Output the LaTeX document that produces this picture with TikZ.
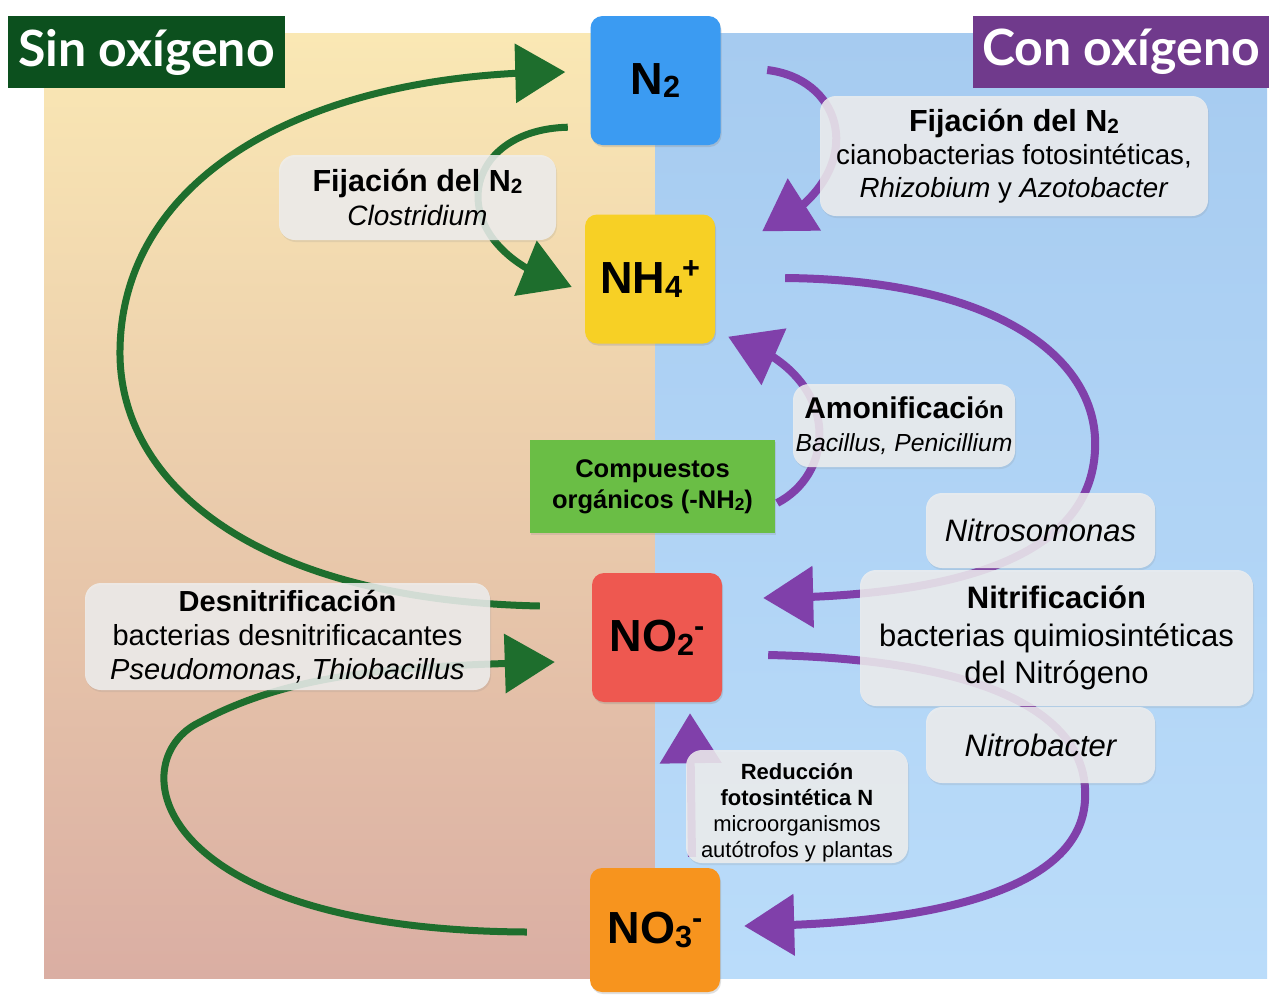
\documentclass[tikz,border=0pt]{standalone}
\usepackage{fontspec}
\usepackage{graphicx}
\setmainfont{Liberation Sans}
\newfontfamily\titlefont{Lato}
\usetikzlibrary{arrows.meta,bending,shadows}
\newcommand{\sbx}[1]{\raisebox{-0.08em}{\scalebox{0.68}{#1}}}
\newcommand{\spx}[1]{\raisebox{0.33em}{\scalebox{0.68}{#1}}}
\definecolor{leftTop}{RGB}{250,232,180}
\definecolor{leftBot}{RGB}{218,174,163}
\definecolor{rightTop}{RGB}{166,203,240}
\definecolor{rightBot}{RGB}{186,220,250}
\definecolor{cN}{RGB}{59,155,242}
\definecolor{cNH}{RGB}{247,208,37}
\definecolor{cComp}{RGB}{106,190,69}
\definecolor{cNOtwo}{RGB}{238,88,80}
\definecolor{cNOthree}{RGB}{247,148,30}
\definecolor{cSin}{RGB}{12,80,30}
\definecolor{cCon}{RGB}{112,58,140}
\definecolor{gArrow}{RGB}{30,110,45}
\definecolor{pArrow}{RGB}{128,64,170}
\definecolor{boxgray}{RGB}{238,238,238}
\begin{document}
\begin{tikzpicture}[x=1pt,y=-1pt,
  keybox/.style={rounded corners=12pt, minimum width=130pt, minimum height=129pt, inner sep=0pt,
    font=\fontsize{45}{50}\selectfont\bfseries, drop shadow={opacity=0.25, shadow xshift=1pt, shadow yshift=-2pt}},
  labbox/.style={rounded corners=16pt, fill=boxgray, fill opacity=0.86, text opacity=1, inner sep=0pt,
    align=center, drop shadow={opacity=0.15, shadow xshift=1pt, shadow yshift=-2pt}},
  headbox/.style={inner sep=0pt, text=white, font=\titlefont\fontsize{50}{55}\selectfont\bfseries, minimum height=72pt},
  garrow/.style={draw=gArrow, line width=7pt, -{Triangle[length=50pt,width=58pt]}},
  parrow/.style={draw=pArrow, line width=8pt, -{Triangle[length=50pt,width=60pt]}}
]
\useasboundingbox (0,0) rectangle (1269,994);
\fill[white] (0,0) rectangle (1269,994);
\shade[top color=leftTop, bottom color=leftBot] (44,33) rectangle (655,978);
\shade[top color=rightTop, bottom color=rightBot] (655,33) rectangle (1267,978);

% main compound nodes
\node[keybox, fill=cN] (n2) at (655.5,80.5) {N\sbx{2}};
\node[keybox, fill=cNH] (nh4) at (650,279) {NH\sbx{4}\spx{+}};
\node[fill=cComp, minimum width=245pt, minimum height=93pt, inner sep=0pt, align=center,
  font=\fontsize{25.5}{31}\selectfont\bfseries, drop shadow={opacity=0.2, shadow xshift=1pt, shadow yshift=-2pt}]
  (comp) at (652.5,486.5) {Compuestos\\orgánicos (-NH\sbx{2})};
\node[keybox, fill=cNOtwo] (no2) at (657,637.5) {NO\sbx{2}\spx{-}};
\node[keybox, fill=cNOthree, minimum height=124pt] (no3) at (655,930) {NO\sbx{3}\spx{-}};

% green arrows (sin oxigeno)
\draw[garrow] ([xshift=-52pt,yshift=31.5pt]no2.west) .. controls (250,600) and (118,480) .. (120,350)
   .. controls (122,180) and (300,72) .. ([xshift=-25pt,yshift=8.5pt]n2.west);
\draw[garrow] ([xshift=-22.5pt,yshift=18pt]n2.south west) .. controls (455,130) and (440,250) .. ([xshift=-13pt,yshift=-8pt]nh4.west);
\draw[garrow] ([xshift=-63pt,yshift=-2pt]no3.west) .. controls (150,930) and (120,760) .. (200,722)
   .. controls (300,668) and (420,666) .. ([xshift=-37pt,yshift=-24.5pt]no2.west);

% purple arrows (con oxigeno)
\draw[parrow] ([xshift=46.5pt,yshift=10.5pt]n2.east) .. controls (850,80) and (870,180) .. ([xshift=47pt,yshift=-17pt]nh4.north east);
\draw[parrow] ([xshift=70pt,yshift=1pt]nh4.east) .. controls (1000,280) and (1100,360) .. (1095,450)
   .. controls (1090,560) and (950,597) .. ([xshift=41pt,yshift=39.5pt]no2.east);
\draw[parrow] ([xshift=2pt,yshift=-16.5pt]comp.east) .. controls (840,470) and (840,370) .. ([xshift=13pt,yshift=7pt]nh4.south east);
\draw[parrow] ([xshift=46pt,yshift=-17.5pt]no2.east) .. controls (1000,660) and (1090,720) .. (1085,800)
   .. controls (1080,900) and (900,925) .. ([xshift=24pt,yshift=4pt]no3.east);
\draw[parrow] ([xshift=37pt,yshift=11pt]no3.north) -- ([xshift=33pt,yshift=-11pt]no2.south);

% label boxes
\node[labbox, minimum width=277pt, minimum height=85pt, font=\fontsize{28}{34}\selectfont] (fixL) at (417.5,197.5)
  {{\fontsize{30.5}{34}\selectfont\bfseries Fijación del N\sbx{2}}\\
   \itshape Clostridium};
\node[labbox, minimum width=388pt, minimum height=120pt, font=\fontsize{27.7}{33}\selectfont] (fixR) at (1014,156)
  {{\fontsize{30.5}{33}\selectfont\bfseries Fijación del N\sbx{2}}\\
   cianobacterias fotosintéticas,\\
   \textit{Rhizobium} y \textit{Azotobacter}};
\node[labbox, minimum width=222pt, minimum height=83pt, font=\fontsize{30}{33}\selectfont] (amon) at (904,425.5)
  {\bfseries Amonificaci{\fontsize{24}{33}\selectfont ón}\\
   {\fontsize{24.7}{33}\selectfont\itshape Bacillus, Penicillium}};
\node[labbox, minimum width=229pt, minimum height=75pt, font=\fontsize{31}{36}\selectfont\itshape] (nitroso) at (1040.5,530.5) {Nitrosomonas};
\node[labbox, minimum width=393pt, minimum height=136pt, font=\fontsize{31}{37.5}\selectfont] (nitrif) at (1056.5,638)
  {\textbf{Nitrificación}\\ bacterias quimiosintéticas\\ del Nitrógeno};
\node[labbox, minimum width=229pt, minimum height=76pt, font=\fontsize{31}{36}\selectfont\itshape] (nitrob) at (1040.5,745) {Nitrobacter};
\node[labbox, minimum width=222pt, minimum height=113pt, font=\fontsize{22}{26}\selectfont] (reduc) at (797,806.5)
  {\rule{0pt}{28pt}\textbf{Reducción}\\ \textbf{fotosintética N}\\ microorganismos\\ autótrofos y plantas};
\node[labbox, minimum width=405pt, minimum height=107pt, font=\fontsize{29}{34}\selectfont] (desn) at (287.5,636.5)
  {\textbf{Desnitrificación}\\
   bacterias desnitrificacantes\\
   \textit{Pseudomonas, Thiobacillus}};

% headers
\node[headbox, fill=cSin, minimum width=277pt] (sin) at (146.5,52) {Sin oxígeno};
\node[headbox, fill=cCon, minimum width=296pt] (con) at (1121,52) {Con oxígeno};
\end{tikzpicture}
\end{document}
